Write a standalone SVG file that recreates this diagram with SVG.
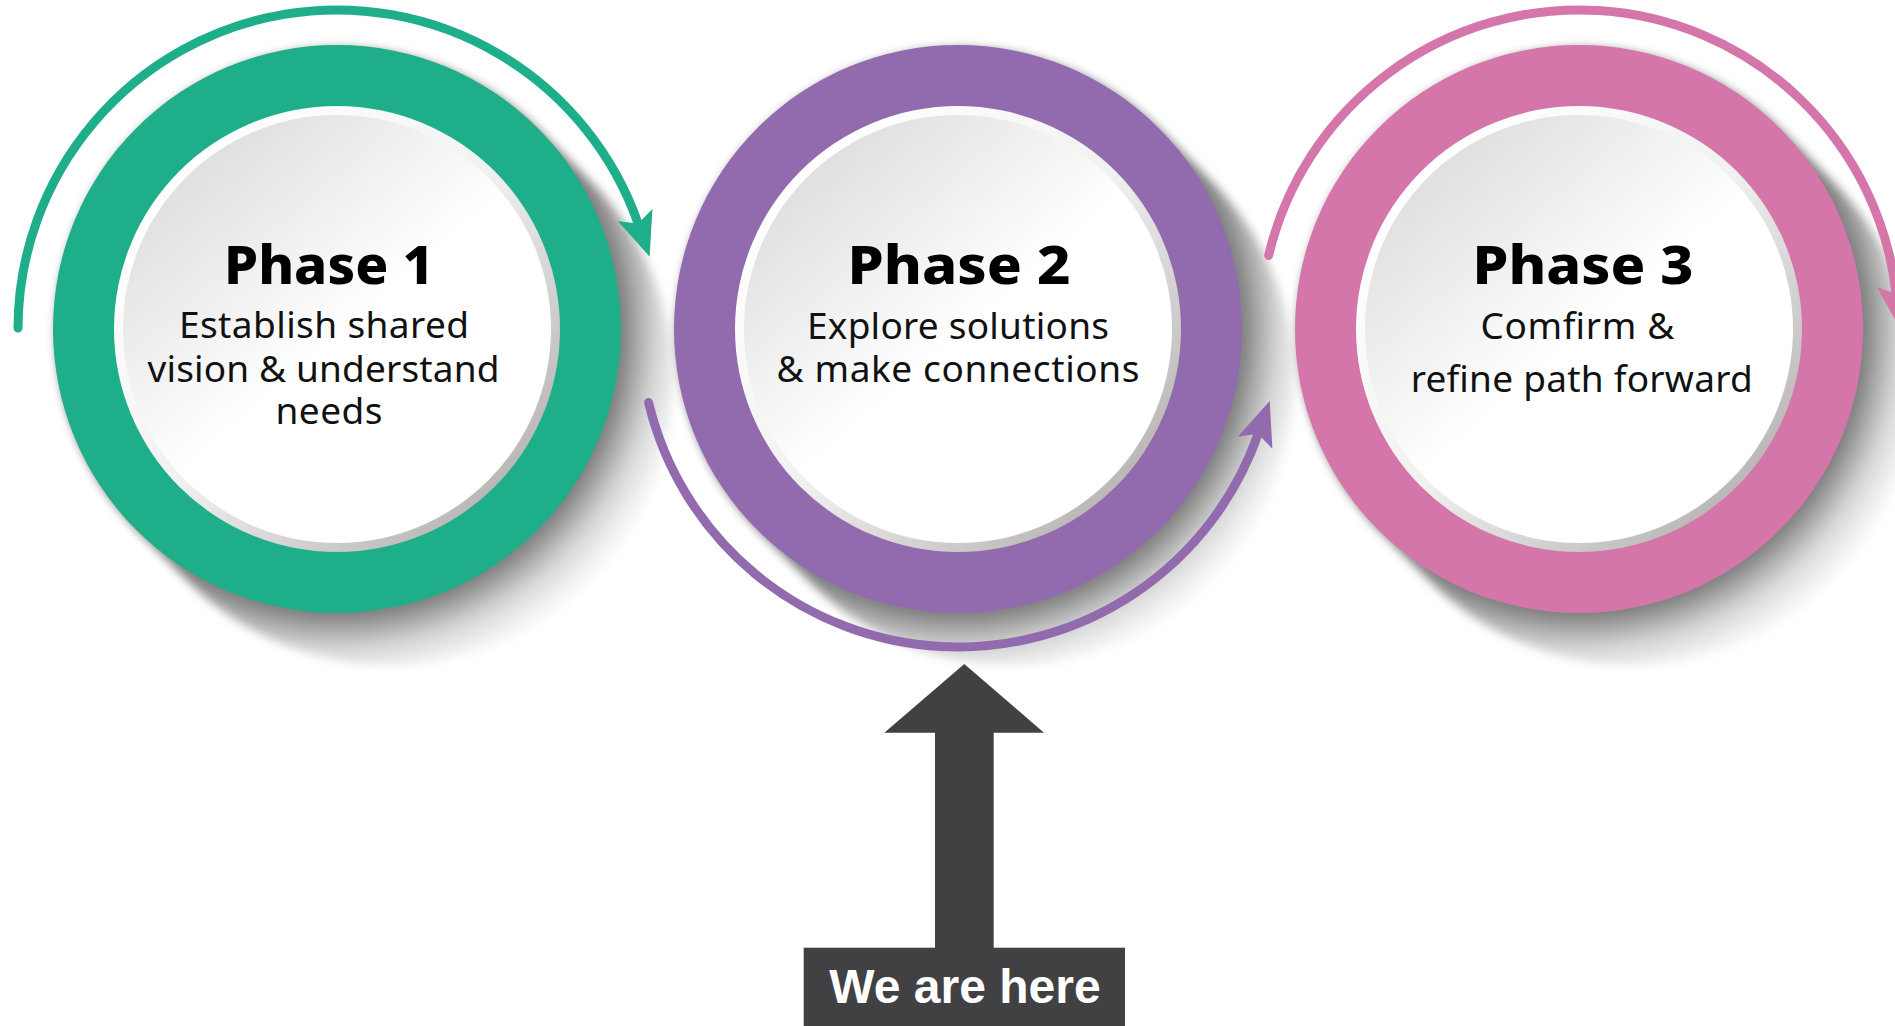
<svg xmlns="http://www.w3.org/2000/svg" width="1895" height="1026" viewBox="0 0 1895 1026">
  <style>
    .title { font-family: "Noto Sans", "DejaVu Sans", sans-serif; font-weight: 800; font-size: 53px; fill: #000; text-anchor: middle; }
    .body { font-family: "Noto Sans", "DejaVu Sans", sans-serif; font-weight: 400; font-size: 37px; fill: #111; text-anchor: middle; }
    .arc { fill: none; stroke-width: 9; stroke-linecap: round; }
    .rim { fill: url(#rimGrad); }
    .disk { fill: url(#diskGrad); }
    .shadow { fill: url(#shadowGrad); filter: url(#soft); }
    .here { font-family: "Liberation Sans", Arial, sans-serif; font-weight: 700; font-size: 48px; fill: #fff; text-anchor: middle; }
  </style>
  <defs>
    <radialGradient id="shadowGrad" gradientUnits="userSpaceOnUse" cx="0" cy="0" r="380">
      <stop offset="0.747" stop-color="#000" stop-opacity="0.5"/>
      <stop offset="0.789" stop-color="#000" stop-opacity="0.34"/>
      <stop offset="0.842" stop-color="#000" stop-opacity="0.16"/>
      <stop offset="0.908" stop-color="#000" stop-opacity="0.05"/>
      <stop offset="0.96" stop-color="#000" stop-opacity="0"/>
    </radialGradient>
    <linearGradient id="rimGrad" x1="0.15" y1="0.15" x2="0.85" y2="0.85">
      <stop offset="0" stop-color="#ffffff"/>
      <stop offset="0.5" stop-color="#f1f1f1"/>
      <stop offset="1" stop-color="#bcb8b8"/>
    </linearGradient>
    <linearGradient id="diskGrad" x1="0.15" y1="0.1" x2="0.8" y2="0.85">
      <stop offset="0" stop-color="#dedede"/>
      <stop offset="0.55" stop-color="#ffffff"/>
      <stop offset="1" stop-color="#ffffff"/>
    </linearGradient>
    <filter id="soft" x="-30%" y="-30%" width="160%" height="160%">
      <feGaussianBlur stdDeviation="5"/>
    </filter>
    <path id="shadowShape" d="M200.8,-200.8 L255.8,-145.8 A284,284 0 0 1 -145.8,255.8 L-200.8,200.8 A284,284 0 0 1 200.8,-200.8 Z"/>
    <marker id="headGreen" markerUnits="userSpaceOnUse" orient="auto" viewBox="-40 -40 80 80" markerWidth="80" markerHeight="80" refX="0" refY="0" overflow="visible">
      <path d="M35,0 L-9,-18.3 L0,0 L-9,18.3 Z" fill="#1eae89"/>
    </marker>
    <marker id="headPurple" markerUnits="userSpaceOnUse" orient="auto" viewBox="-40 -40 80 80" markerWidth="80" markerHeight="80" refX="0" refY="0" overflow="visible">
      <path d="M35,0 L-9,-18.3 L0,0 L-9,18.3 Z" fill="#926bae"/>
    </marker>
    <marker id="headPink" markerUnits="userSpaceOnUse" orient="auto" viewBox="-40 -40 80 80" markerWidth="80" markerHeight="80" refX="0" refY="0" overflow="visible">
      <path d="M35,0 L-9,-18.3 L0,0 L-9,18.3 Z" fill="#d476aa"/>
    </marker>
  </defs>

  <rect width="1895" height="1026" fill="#ffffff"/>

  <g id="phase1" transform="translate(337,329)">
    <use href="#shadowShape" class="shadow"/>
    <circle r="284" fill="#1eae89"/>
    <circle r="223" class="rim"/>
    <circle r="214" class="disk"/>
    <text class="title" x="-8" y="-45" textLength="210" lengthAdjust="spacingAndGlyphs">Phase 1</text>
    <text class="body" x="-13" y="9" textLength="290">Establish shared</text>
    <text class="body" x="-13.5" y="53" textLength="352">vision &amp; understand</text>
    <text class="body" x="-8" y="95" textLength="107">needs</text>
  </g>

  <g id="phase2" transform="translate(958,329)">
    <use href="#shadowShape" class="shadow"/>
    <circle r="284" fill="#926bae"/>
    <circle r="223" class="rim"/>
    <circle r="214" class="disk"/>
    <text class="title" x="1" y="-45" textLength="223" lengthAdjust="spacingAndGlyphs">Phase 2</text>
    <text class="body" x="0" y="10" textLength="302">Explore solutions</text>
    <text class="body" x="0" y="53" textLength="363">&amp; make connections</text>
  </g>

  <g id="phase3" transform="translate(1579,329)">
    <use href="#shadowShape" class="shadow"/>
    <circle r="284" fill="#d476aa"/>
    <circle r="223" class="rim"/>
    <circle r="214" class="disk"/>
    <text class="title" x="4" y="-45" textLength="221" lengthAdjust="spacingAndGlyphs">Phase 3</text>
    <text class="body" x="-1.6" y="9.5" textLength="194">Comfirm &amp;</text>
    <text class="body" x="2.7" y="63" textLength="342">refine path forward</text>
  </g>

  <g id="connectors">
    <path class="arc" stroke="#1eae89" d="M18,328 A319,319 0 0 1 638.1,223.6" marker-end="url(#headGreen)"/>
    <path class="arc" stroke="#926bae" d="M648.6,402.5 A318,318 0 0 0 1258.1,434.1" marker-end="url(#headPurple)"/>
    <path class="arc" stroke="#d476aa" d="M1268.6,255.5 A319,319 0 0 1 1896.1,294" marker-end="url(#headPink)"/>
  </g>

  <g id="we-are-here">
    <polygon points="964.3,664 1044,732.7 993.7,732.7 993.7,948 935,948 935,732.7 884.3,732.7" fill="#414143"/>
    <rect x="803.7" y="947.7" width="321.3" height="80" fill="#414143"/>
    <text class="here" x="965" y="1003">We are here</text>
  </g>
</svg>
